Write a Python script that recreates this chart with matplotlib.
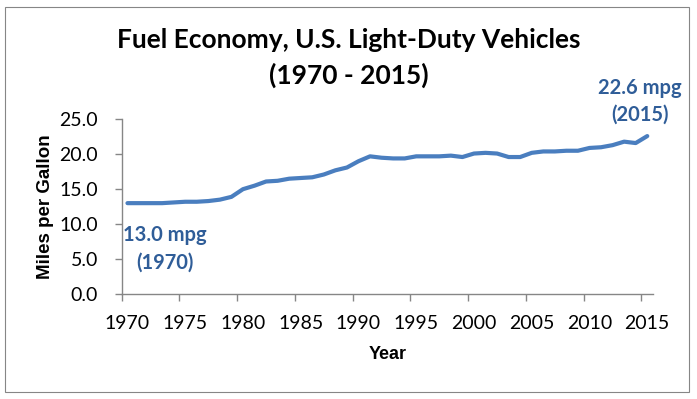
import matplotlib
matplotlib.use("Agg")
import matplotlib.pyplot as plt
from matplotlib.patches import Rectangle
from matplotlib.ticker import FixedLocator, FuncFormatter

# Daten
years = list(range(1970, 2016))
mpg = [13.0, 13.0, 13.0, 13.0, 13.1, 13.2, 13.2, 13.3, 13.5, 13.9,
       15.0, 15.5, 16.1, 16.2, 16.5, 16.6, 16.7, 17.1, 17.7, 18.1,
       19.0, 19.7, 19.5, 19.4, 19.4, 19.7, 19.7, 19.7, 19.8, 19.6,
       20.1, 20.2, 20.1, 19.6, 19.6, 20.2, 20.4, 20.4, 20.5, 20.5,
       20.9, 21.0, 21.3, 21.8, 21.6, 22.6]
tick_years = [1970, 1975, 1980, 1985, 1990, 1995, 2000, 2005, 2010, 2015]
y_ticks = [0, 5, 10, 15, 20, 25]

line_color = "#4A7EBF"
text_blue = "#2F5D98"
gray = "#868686"

fig = plt.figure(figsize=(6.97, 3.99), dpi=100)
ax = fig.add_axes([0.1746, 0.2632, 0.7623, 0.4378])

idx = list(range(len(years)))
ax.plot(idx, mpg, color=line_color, lw=3, solid_capstyle="round")

ax.set_xlim(-0.5, len(years) - 0.5)
ax.set_ylim(0, 25)

# Kategorieachse: Beschriftung mittig, Striche an den Grenzen
ax.set_xticks([years.index(y) for y in tick_years])
ax.set_xticklabels([str(y) for y in tick_years])
ax.xaxis.set_minor_locator(FixedLocator([years.index(y) - 0.5 for y in tick_years]))
ax.tick_params(axis="x", which="major", length=0, pad=15, labelsize=14)
ax.tick_params(axis="x", which="minor", length=5, color=gray, width=1)

ax.set_yticks(y_ticks)
ax.yaxis.set_major_formatter(FuncFormatter(lambda v, p: f"{v:.1f}"))
ax.tick_params(axis="y", length=5, color=gray, width=1, pad=12, labelsize=14)

for lab in ax.get_xticklabels() + ax.get_yticklabels():
    lab.set_family("Lato")

for s in ["top", "right"]:
    ax.spines[s].set_visible(False)
for s in ["left", "bottom"]:
    ax.spines[s].set_color(gray)
    ax.spines[s].set_linewidth(1)

ax.set_xlabel("Year", family="Liberation Sans", fontweight="bold", fontsize=13)
ax.set_ylabel("Miles per Gallon", family="Liberation Sans", fontweight="bold", fontsize=13.5)
ax.xaxis.set_label_coords(0.5, -0.349)
ax.xaxis.label.set_va("center")
ax.yaxis.set_label_coords(-0.144, 0.5)
ax.yaxis.label.set_va("center")

fig.text(0.5, 1 - 40 / 399, "Fuel Economy, U.S. Light-Duty Vehicles", ha="center", va="center",
         family="Lato", fontweight="bold", fontsize=19)
fig.text(0.5, 1 - 75 / 399, "(1970 - 2015)", ha="center", va="center",
         family="Lato", fontweight="bold", fontsize=19)

# Beschriftungen an Anfang und Ende
fig.text(165 / 697, 1 - 235 / 399, f"{mpg[0]:.1f} mpg", ha="center", va="center",
         family="Lato", fontweight="bold", fontsize=14.5, color=text_blue)
fig.text(165 / 697, 1 - 263 / 399, f"({years[0]})", ha="center", va="center",
         family="Lato", fontweight="bold", fontsize=14.5, color=text_blue)
fig.text(640 / 697, 1 - 88 / 399, f"{mpg[-1]:.1f} mpg", ha="center", va="center",
         family="Lato", fontweight="bold", fontsize=14.5, color=text_blue)
fig.text(640 / 697, 1 - 115 / 399, f"({years[-1]})", ha="center", va="center",
         family="Lato", fontweight="bold", fontsize=14.5, color=text_blue)

fig.patches.append(Rectangle((5 / 697, 1 - 392 / 399), 684 / 697, 385 / 399,
                             transform=fig.transFigure, fill=False, edgecolor=gray, lw=0.8))

fig.savefig("out.png", dpi=100)
